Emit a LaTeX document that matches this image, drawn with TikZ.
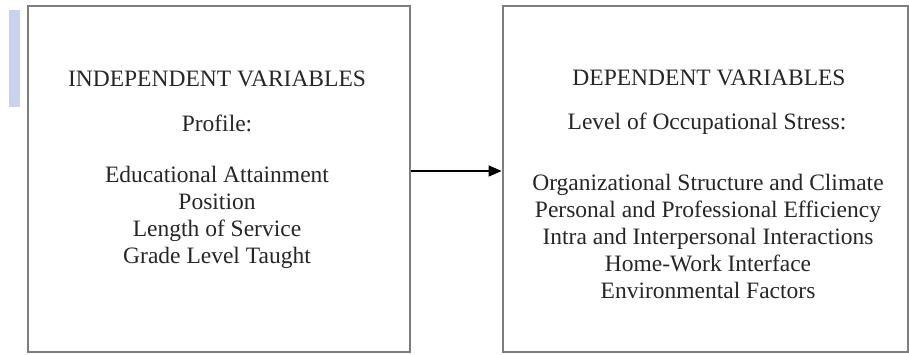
\documentclass[tikz,border=0pt]{standalone}
\usepackage{fontspec}
\setmainfont{Liberation Serif}
\usetikzlibrary{arrows.meta}
\definecolor{boxgray}{RGB}{125,125,125}
\definecolor{barblue}{RGB}{200,210,238}
\tikzset{
  varbox/.style={draw=boxgray, line width=1.4pt, rectangle, inner sep=0pt},
  txt/.style={anchor=base, inner sep=0pt, font=\fontsize{23.5}{27}\selectfont, text=black!85},
  link/.style={line width=1.5pt, -{Triangle[length=13pt,width=11pt]}, shorten >=0.7pt}
}
\begin{document}
\begin{tikzpicture}[x=1pt,y=-1pt]
\useasboundingbox (0,0) rectangle (909,354);
\fill[barblue] (9,10) rectangle (20,107);
\node[varbox, minimum width=382pt, minimum height=346pt] (ind) at (219,179) {};
\node[varbox, minimum width=405pt, minimum height=346pt] (dep) at (705.5,179) {};
% left texts
\node[txt] (i1) at (217,86) {INDEPENDENT VARIABLES};
\node[txt] (i2) at (217,131) {Profile:};
\node[txt] (i3) at (217,182) {Educational Attainment};
\node[txt] (i4) at (217,209) {Position};
\node[txt] (i5) at (217,236) {Length of Service};
\node[txt] (i6) at (217,263) {Grade Level Taught};
% right texts
\node[txt] (d1) at (709,85) {DEPENDENT VARIABLES};
\node[txt] (d2) at (707,129) {Level of Occupational Stress:};
\node[txt] (d3) at (708,190) {Organizational Structure and Climate};
\node[txt] (d4) at (708,217) {Personal and Professional Efficiency};
\node[txt] (d5) at (708,244) {Intra and Interpersonal Interactions};
\node[txt] (d6) at (708,271) {Home-Work Interface};
\node[txt] (d7) at (708,298) {Environmental Factors};
\coordinate (a1) at (ind.east |- 0,171);
\coordinate (a2) at (dep.west |- 0,171);
\draw[link] (a1) -- (a2);
\end{tikzpicture}
\end{document}
